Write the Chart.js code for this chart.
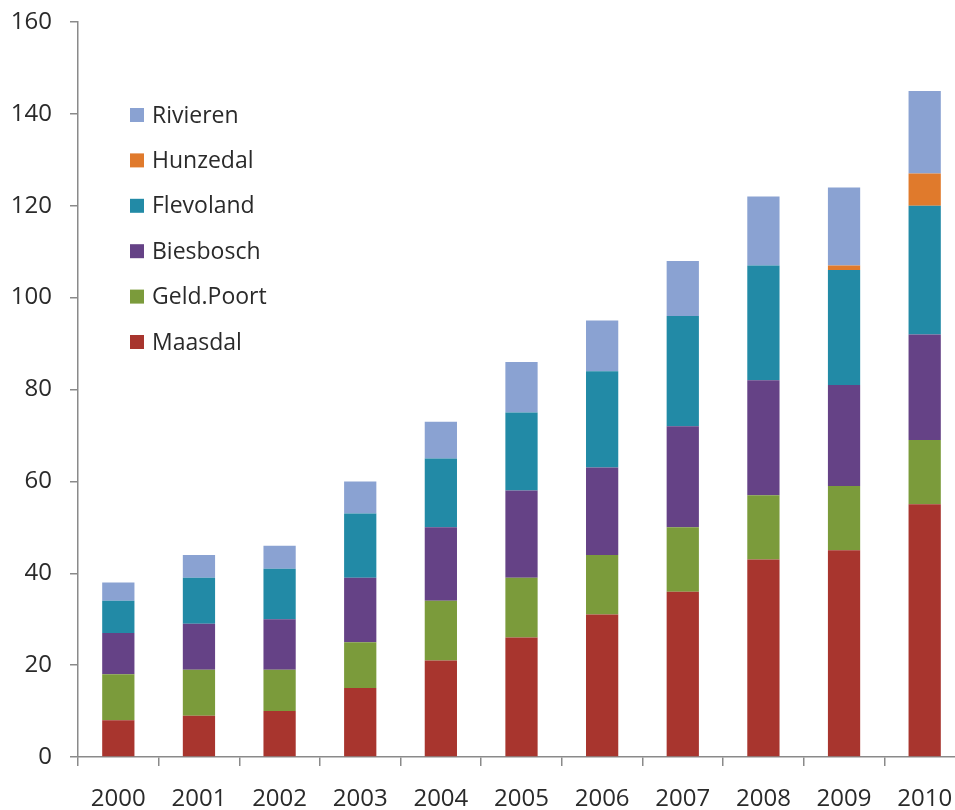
<!DOCTYPE html>
<html>
<head>
<meta charset="utf-8">
<script src="https://cdn.jsdelivr.net/npm/chart.js@4/dist/chart.umd.min.js"></script>
<style>
  html, body { margin: 0; padding: 0; background: #fff; overflow: hidden; }
  #wrap { width: 965px; height: 810px; }
</style>
</head>
<body>
<div id="wrap"><canvas id="chart"></canvas></div>
<script>
// data
var years = ['2000', '2001', '2002', '2003', '2004', '2005', '2006', '2007', '2008', '2009', '2010'];
var maasdal   = [8, 9, 10, 15, 21, 26, 31, 36, 43, 45, 55];
var geldPoort = [10, 10, 9, 10, 13, 13, 13, 14, 14, 14, 14];
var biesbosch = [9, 10, 11, 14, 16, 19, 19, 22, 25, 22, 23];
var flevoland = [7, 10, 11, 14, 15, 17, 21, 24, 25, 25, 28];
var hunzedal  = [0, 0, 0, 0, 0, 0, 0, 0, 0, 1, 7];
var rivieren  = [4, 5, 5, 7, 8, 11, 11, 12, 15, 17, 18];
var yTicks = [0, 20, 40, 60, 80, 100, 120, 140, 160];

var FONT = '"Open Sans", sans-serif';

// legend drawn inside the plot, top series first
var insideLegend = {
  id: 'insideLegend',
  afterDraw: function(chart) {
    var c = chart.ctx;
    var ds = chart.data.datasets.slice().reverse();
    c.save();
    c.font = '23px ' + FONT;
    c.textBaseline = 'middle';
    c.textAlign = 'left';
    ds.forEach(function(d, i) {
      var y = 115 + i * 45.4;
      c.fillStyle = d.backgroundColor;
      c.fillRect(130, y - 7, 14, 14);
      c.fillStyle = '#2a2a2a';
      c.fillText(d.label, 152, y + 1);
    });
    c.restore();
  }
};

var ctx = document.getElementById('chart').getContext('2d');
var chart = new Chart(ctx, {
  type: 'bar',
  data: {
    labels: years,
    datasets: [
      { label: 'Maasdal', data: maasdal, backgroundColor: '#a8352e' },
      { label: 'Geld.Poort', data: geldPoort, backgroundColor: '#7b9b3b' },
      { label: 'Biesbosch', data: biesbosch, backgroundColor: '#654286' },
      { label: 'Flevoland', data: flevoland, backgroundColor: '#228aa6' },
      { label: 'Hunzedal', data: hunzedal, backgroundColor: '#e07a2c' },
      { label: 'Rivieren', data: rivieren, backgroundColor: '#8aa2d2' }
    ]
  },
  options: {
    responsive: true,
    maintainAspectRatio: false,
    animation: false,
    layout: { padding: { top: 22, left: 0, right: 0, bottom: 0 } },
    datasets: { bar: { barPercentage: 0.4, categoryPercentage: 1 } },
    plugins: {
      legend: { display: false },
      tooltip: { enabled: false }
    },
    scales: {
      x: {
        stacked: true,
        afterFit: function(s) { s.height = 53; s.paddingLeft = 0; s.paddingRight = 0; },
        border: { color: '#8a8a8a', width: 1.5 },
        grid: { drawOnChartArea: false, offset: true, tickLength: 9, color: '#8a8a8a', lineWidth: 1.5 },
        ticks: { color: '#2a2a2a', font: { family: FONT, size: 24 }, padding: 19, maxRotation: 0 }
      },
      y: {
        stacked: true,
        min: 0,
        max: 160,
        afterFit: function(s) { s.width = 78; s.paddingTop = 0; s.paddingBottom = 0; },
        afterBuildTicks: function(s) { s.ticks = yTicks.map(function(v) { return { value: v }; }); },
        border: { color: '#8a8a8a', width: 1.5 },
        grid: { drawOnChartArea: false, tickLength: 8, color: '#8a8a8a', lineWidth: 1.5 },
        ticks: { color: '#2a2a2a', font: { family: FONT, size: 24 }, padding: 18 }
      }
    }
  },
  plugins: [insideLegend]
});
</script>
</body>
</html>
